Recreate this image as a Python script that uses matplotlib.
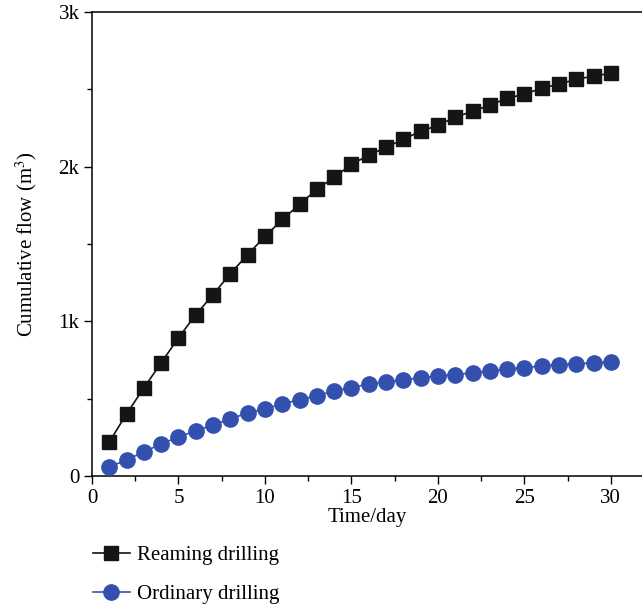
import numpy as np
import matplotlib
matplotlib.use('Agg')
import matplotlib.pyplot as plt
from matplotlib.ticker import MultipleLocator, FuncFormatter

plt.rcParams['font.family'] = ['Liberation Serif', 'DejaVu Serif']
plt.rcParams['mathtext.fontset'] = 'stix'

days = np.arange(1, 31)
reaming = [220, 402, 570, 732, 894, 1043, 1173, 1309, 1432, 1549,
           1659, 1756, 1854, 1931, 2016, 2074, 2126, 2178, 2229, 2268,
           2320, 2359, 2398, 2443, 2469, 2508, 2534, 2566, 2586, 2605]
ordinary = [58, 104, 156, 207, 253, 292, 330, 369, 408, 434,
            467, 493, 518, 551, 570, 596, 609, 622, 635, 648,
            655, 668, 680, 693, 700, 713, 719, 726, 732, 739]

fig = plt.figure(figsize=(6.42, 6.07), dpi=100)
ax = fig.add_axes([0.1433, 0.2158, 0.8567, 0.7642])

ax.plot(days, reaming, color='#111111', lw=1.2, marker='s', ms=9.5,
        mfc='#151515', mec='#151515', label='Reaming drilling', zorder=3)
ax.plot(days, ordinary, color='#3452b0', lw=1.2, marker='o', ms=11,
        mfc='#3350ae', mec='#3350ae', label='Ordinary drilling', zorder=3)

ax.set_xlim(0, 31.8)
ax.set_ylim(0, 3000)
ax.xaxis.set_major_locator(MultipleLocator(5))
ax.xaxis.set_minor_locator(MultipleLocator(2.5))
ax.yaxis.set_major_locator(MultipleLocator(1000))
ax.yaxis.set_minor_locator(MultipleLocator(500))
ax.yaxis.set_major_formatter(FuncFormatter(lambda v, p: '0' if v == 0 else '%dk' % (v / 1000)))

ax.spines['right'].set_visible(False)
for s in ['left', 'bottom', 'top']:
    ax.spines[s].set_linewidth(1.1)
ax.tick_params(which='major', direction='out', length=6, width=1.0, labelsize=15, pad=3)
ax.tick_params(which='minor', direction='out', length=3.5, width=1.0)

ax.set_xlabel('Time/day', fontsize=15, labelpad=0)
ax.set_ylabel('Cumulative flow (m$^3$)', fontsize=15, labelpad=14)

fig.legend(loc='upper left', bbox_to_anchor=(0.132, 0.115), frameon=False,
           fontsize=15, handlelength=1.75, handletextpad=0.35, labelspacing=0.95,
           borderaxespad=0)

fig.savefig('out.png', dpi=100)
